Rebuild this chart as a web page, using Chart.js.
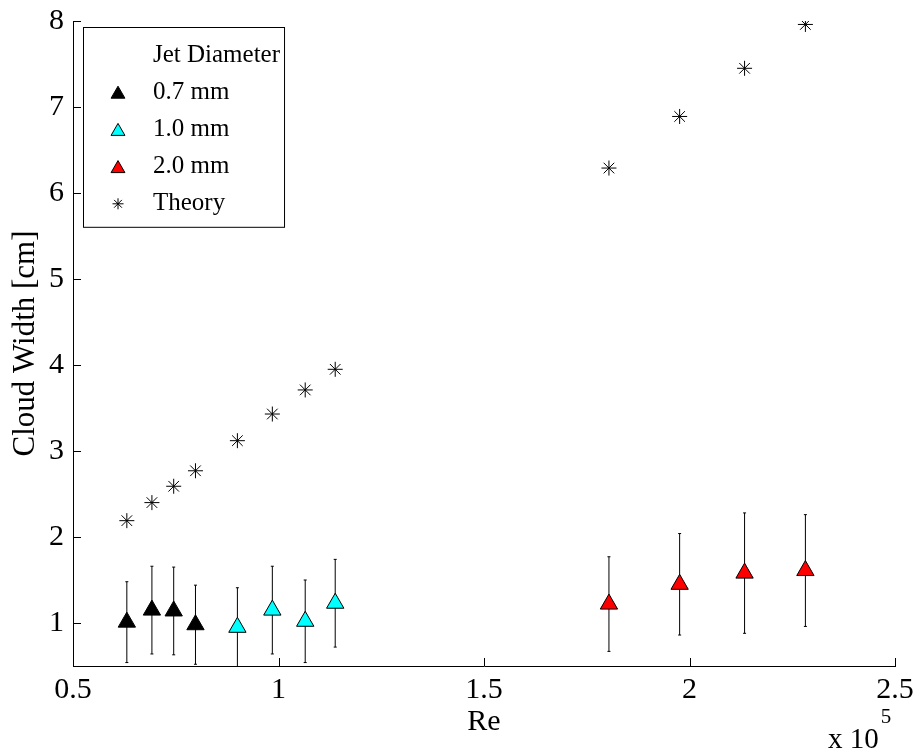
<!DOCTYPE html>
<html>
<head>
<meta charset="utf-8">
<script src="https://cdn.jsdelivr.net/npm/chart.js@4.4.1/dist/chart.umd.min.js"></script>
<style>
  html, body { margin: 0; padding: 0; background: #fff; }
  #wrap { width: 918px; height: 754px; }
</style>
</head>
<body>
<div id="wrap"><canvas id="c" width="918" height="754"></canvas></div>
<script>
// ---- data (Re in units of 1e5, cloud width in cm) ----
const re07 = [0.631, 0.692, 0.745, 0.798];
const cw07 = [1.01, 1.15, 1.14, 0.98];
const err07 = [0.47, 0.51, 0.51, 0.46];

const re10 = [0.900, 0.985, 1.065, 1.138];
const cw10 = [0.95, 1.15, 1.02, 1.23];
const err10 = [0.46, 0.51, 0.48, 0.51];

const re20 = [1.804, 1.976, 2.134, 2.282];
const cw20 = [1.22, 1.45, 1.58, 1.61];
const err20 = [0.55, 0.59, 0.70, 0.65];

const reTheory = [0.631, 0.692, 0.745, 0.798, 0.900, 0.985, 1.065, 1.138, 1.804, 1.976, 2.134, 2.282];
const cwTheory = [2.19, 2.40, 2.59, 2.77, 3.12, 3.43, 3.71, 3.95, 6.29, 6.89, 7.45, 7.96];

const xTicks = [0.5, 1, 1.5, 2, 2.5];
const yTicks = [1, 2, 3, 4, 5, 6, 7, 8];

const seriesLabels = ['0.7 mm', '1.0 mm', '2.0 mm', 'Theory'];
const legendTitle = 'Jet Diameter';

const FONT = "'Liberation Serif', 'Times New Roman', serif";

function pts(xs, ys, es) {
  return xs.map((x, i) => (es ? { x: x, y: ys[i], err: es[i] } : { x: x, y: ys[i] }));
}

// error bars drawn through the scales
const errorBars = {
  id: 'errorBars',
  beforeDatasetsDraw(chart) {
    const { ctx, chartArea, scales: { x, y } } = chart;
    ctx.save();
    ctx.beginPath();
    ctx.rect(chartArea.left, chartArea.top, chartArea.right - chartArea.left, chartArea.bottom - chartArea.top);
    ctx.clip();
    ctx.strokeStyle = '#000';
    ctx.lineWidth = 1;
    chart.data.datasets.forEach(ds => {
      ds.data.forEach(p => {
        if (p.err === undefined) return;
        const px = x.getPixelForValue(p.x);
        const yl = y.getPixelForValue(p.y - p.err);
        const yh = y.getPixelForValue(p.y + p.err);
        ctx.beginPath();
        ctx.moveTo(px, yl); ctx.lineTo(px, yh);
        ctx.moveTo(px - 1.5, yl); ctx.lineTo(px + 1.5, yl);
        ctx.moveTo(px - 1.5, yh); ctx.lineTo(px + 1.5, yh);
        ctx.stroke();
      });
    });
    ctx.restore();
  }
};

// inward tick marks + exponent label
const axisDecor = {
  id: 'axisDecor',
  afterDraw(chart) {
    const { ctx, chartArea, scales: { x, y } } = chart;
    ctx.save();
    ctx.strokeStyle = '#000';
    ctx.lineWidth = 1;
    ctx.beginPath();
    xTicks.forEach(v => {
      const px = Math.round(x.getPixelForValue(v)) + 0.5;
      ctx.moveTo(px, chartArea.bottom);
      ctx.lineTo(px, chartArea.bottom - 8);
    });
    yTicks.forEach(v => {
      const py = Math.round(y.getPixelForValue(v)) + 0.5;
      ctx.moveTo(chartArea.left, py);
      ctx.lineTo(chartArea.left + 8, py);
    });
    ctx.stroke();
    // "x 10^5"
    ctx.fillStyle = '#000';
    ctx.textBaseline = 'middle';
    ctx.textAlign = 'left';
    ctx.font = '29px ' + FONT;
    const base = 'x 10';
    const bx = 828;
    ctx.fillText(base, bx, 740);
    const w = ctx.measureText(base).width;
    ctx.font = '21px ' + FONT;
    ctx.fillText('5', bx + w + 2, 717);
    ctx.restore();
  }
};

// legend box inside plot
const boxLegend = {
  id: 'boxLegend',
  afterDraw(chart) {
    const { ctx } = chart;
    const left = 83, top = 27, rowH = 37.2, firstY = 55;
    const markerX = 118, textX = 153;
    ctx.save();
    ctx.font = '25px ' + FONT;
    let maxW = ctx.measureText(legendTitle).width;
    seriesLabels.forEach(l => { maxW = Math.max(maxW, ctx.measureText(l).width); });
    const right = Math.max(277, textX + maxW + 4);
    const bottom = firstY + rowH * 4 + 23;
    ctx.fillStyle = '#fff';
    ctx.fillRect(left, top, right - left, bottom - top);
    ctx.strokeStyle = '#000';
    ctx.lineWidth = 1;
    ctx.strokeRect(left + 0.5, top + 0.5, right - left, bottom - top);
    ctx.fillStyle = '#000';
    ctx.textBaseline = 'middle';
    ctx.textAlign = 'left';
    ctx.fillText(legendTitle, textX, firstY);
    chart.data.datasets.forEach((ds, i) => {
      const yy = firstY + rowH * (i + 1);
      const opts = {
        pointStyle: ds.pointStyle,
        rotation: 0,
        borderWidth: ds.borderWidth,
        radius: ds.pointStyle === 'star' ? 5.5 : 8
      };
      ctx.fillStyle = ds.backgroundColor;
      ctx.strokeStyle = ds.borderColor;
      ctx.lineWidth = ds.borderWidth;
      if (Chart.helpers && Chart.helpers.drawPoint) {
        Chart.helpers.drawPoint(ctx, opts, markerX, yy + (ds.pointStyle === 'star' ? 0 : 2));
      }
      ctx.fillStyle = '#000';
      ctx.fillText(ds.label, textX, yy);
    });
    ctx.restore();
  }
};

new Chart(document.getElementById('c'), {
  type: 'scatter',
  data: {
    datasets: [
      { label: seriesLabels[0], data: pts(re07, cw07, err07), pointStyle: 'triangle', pointRadius: 10,
        backgroundColor: '#000000', borderColor: '#000000', borderWidth: 1 },
      { label: seriesLabels[1], data: pts(re10, cw10, err10), pointStyle: 'triangle', pointRadius: 10,
        backgroundColor: '#00ffff', borderColor: '#000000', borderWidth: 1 },
      { label: seriesLabels[2], data: pts(re20, cw20, err20), pointStyle: 'triangle', pointRadius: 10,
        backgroundColor: '#ff0000', borderColor: '#000000', borderWidth: 1 },
      { label: seriesLabels[3], data: pts(reTheory, cwTheory), pointStyle: 'star', pointRadius: 7.5,
        backgroundColor: '#000000', borderColor: '#000000', borderWidth: 1 }
    ]
  },
  options: {
    responsive: false,
    animation: false,
    events: [],
    layout: { padding: { top: 21, right: 23, left: 0, bottom: 0 } },
    plugins: { legend: { display: false }, tooltip: { enabled: false } },
    scales: {
      x: {
        type: 'linear', min: 0.5, max: 2.5,
        afterBuildTicks: s => { s.ticks = xTicks.map(v => ({ value: v })); },
        afterFit: s => { s.height = 88; s.paddingLeft = 0; s.paddingRight = 0; },
        ticks: { color: '#000', font: { family: FONT, size: 30 }, padding: 6, maxRotation: 0, autoSkip: false,
                 callback: v => String(v) },
        grid: { display: false, drawTicks: false },
        border: { display: true, color: '#000', width: 1 },
        title: { display: true, text: 'Re', color: '#000', font: { family: FONT, size: 30 }, padding: { top: 0, bottom: 14 } }
      },
      y: {
        type: 'linear', min: 0.5, max: 8,
        afterBuildTicks: s => { s.ticks = yTicks.map(v => ({ value: v })); },
        afterFit: s => { s.width = 73; s.paddingTop = 0; s.paddingBottom = 0; },
        ticks: { color: '#000', font: { family: FONT, size: 30 }, padding: 9, autoSkip: false,
                 callback: v => String(v) },
        grid: { display: false, drawTicks: false },
        border: { display: true, color: '#000', width: 1 },
        title: { display: true, text: 'Cloud Width [cm]', color: '#000', font: { family: FONT, size: 31 }, padding: { top: 7, bottom: 0 } }
      }
    }
  },
  plugins: [errorBars, axisDecor, boxLegend]
});
</script>
</body>
</html>
